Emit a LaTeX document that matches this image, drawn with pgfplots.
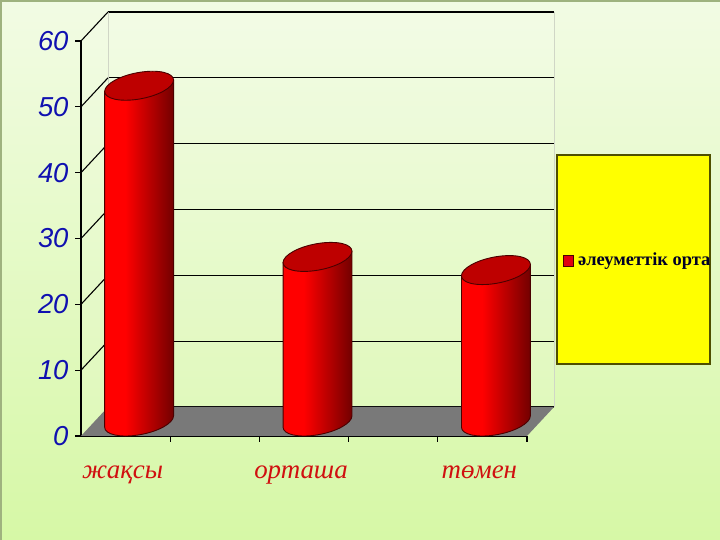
\documentclass[border=0pt]{standalone}
\usepackage{fontspec}
\setmainfont{Liberation Serif}
\newfontfamily\arialfont{Liberation Sans}
\usepackage{pgfplots}
\pgfplotsset{compat=1.18}
\definecolor{bgtop}{HTML}{F2FBE4}
\definecolor{bgbot}{HTML}{D6F8A6}
\definecolor{edgecol}{HTML}{9FB27F}
\definecolor{tickblue}{HTML}{1010B0}
\definecolor{catred}{HTML}{D01010}
\definecolor{cylline}{HTML}{4A0000}
\definecolor{capred}{HTML}{BE0000}
\definecolor{legyellow}{HTML}{FFFF00}
\definecolor{legedge}{HTML}{4F4F00}
\definecolor{legred}{HTML}{E00010}
\pgfdeclarehorizontalshading{cyl}{100bp}{rgb(0bp)=(1,0,0); rgb(25bp)=(1,0,0); rgb(40bp)=(1,0,0); rgb(75bp)=(.45,0,0); rgb(100bp)=(.45,0,0)}
% one cylinder per data point; its height is the point's y value on the axis scale
\pgfdeclareplotmark{cyl}{%
  \pgfmathsetmacro\cylH{\yval*6.6080}%
  \pgftransformshift{\pgfqpoint{13.5bp}{14.5bp}}%
  \pgfsetlinewidth{0.9pt}\pgfsetstrokecolor{cylline}%
  \begin{pgfscope}%
    \pgfpathmoveto{\pgfpoint{-34.45bp}{-5.67bp}}%
    \pgfpathlineto{\pgfpoint{-34.45bp}{-\cylH pt-5.67bp}}%
    \pgfpatharcaxes{203}{383}{\pgfqpoint{31.7bp}{0bp}}{\pgfqpoint{13.5bp}{14.5bp}}%
    \pgfpathlineto{\pgfpoint{34.45bp}{5.67bp}}%
    \pgfpathclose
    \pgfshadepath{cyl}{0}%
  \end{pgfscope}%
  \pgfpathmoveto{\pgfpoint{-34.45bp}{-5.67bp}}%
  \pgfpathlineto{\pgfpoint{-34.45bp}{-\cylH pt-5.67bp}}%
  \pgfpatharcaxes{203}{383}{\pgfqpoint{31.7bp}{0bp}}{\pgfqpoint{13.5bp}{14.5bp}}%
  \pgfpathlineto{\pgfpoint{34.45bp}{5.67bp}}%
  \pgfusepath{stroke}%
  \pgfsetfillcolor{capred}%
  \pgfpathellipse{\pgfpointorigin}{\pgfqpoint{31.7bp}{0bp}}{\pgfqpoint{13.5bp}{14.5bp}}%
  \pgfusepath{fill,stroke}%
}
\begin{document}
\begin{tikzpicture}[x=1bp,y=1bp]
\path[use as bounding box] (0,0) rectangle (720,540);
\shade[top color=bgtop,bottom color=bgbot] (0,0) rectangle (720,540);
\fill[edgecol] (0,0) rectangle (2,540);
\fill[edgecol] (0,537.5) rectangle (720,540);
% left wall
\fill[white,opacity=.1] (81,104) -- (108,133) -- (108,528) -- (81,499) -- cycle;
% back wall with gridlines
\begin{axis}[at={(108bp,133bp)},anchor=south west,scale only axis,width=446bp,height=395bp,
  xmin=0,xmax=5,ymin=0,ymax=60,ytick={0,10,...,60},xtick=\empty,yticklabels={},
  major tick length=0pt,ymajorgrids,grid style={black,line width=1.1pt},
  axis line style={draw=none},
  axis background/.style={fill=white,fill opacity=.1}]
\addplot[draw=none] coordinates {(0,0)(5,60)};
\end{axis}
\draw[gray!30!bgtop,line width=.8pt] (108,133) -- (108,528) (554,133) -- (554,528);
% main axis
\begin{axis}[at={(81bp,104bp)},anchor=south west,scale only axis,width=446bp,height=395bp,
  xmin=0,xmax=5,ymin=0,ymax=60,clip=false,
  axis x line*=bottom,axis y line*=left,
  axis line style={black,line width=1.1pt,-},
  tick style={black,line width=1.1pt},
  tick align=outside,major tick length=6bp,
  xtick={1,2,3,4,5},xticklabels={},
  ytick={0,10,...,60},
  yticklabel style={font=\arialfont\itshape\fontsize{27.5}{30}\selectfont,text=tickblue,xshift=-3bp},
  /pgf/number format/assume math mode=true,
  extra x ticks={0.5,2.5,4.5},
  extra x tick labels={жақсы,орташа,төмен},
  extra x tick style={major tick length=0pt,
    xticklabel style={font=\itshape\fontsize{27}{30}\selectfont,text=catred,yshift=-26bp,xshift=-3bp}}]
\fill[gray!95!black] (axis cs:0,0) -- (axis cs:5,0) -- ++(27bp,29bp) -- ([shift={(27bp,29bp)}]axis cs:0,0) -- cycle;
\foreach \v in {10,20,30,40,50,60}{
  \edef\temp{\noexpand\draw[black,line width=1.1pt] (axis cs:0,\v) -- ++(27bp,29bp);}\temp
}
\addplot[only marks,mark=cyl,visualization depends on={rawy \as \yval}] coordinates {(0.5,51)(2.5,25)(4.5,23)};
\end{axis}
% legend
\filldraw[fill=legyellow,draw=legedge,line width=1.3pt] (557,176) rectangle (710,385);
\filldraw[fill=legred,draw=cylline,line width=.8pt] (563,274) rectangle (573,285);
\node[anchor=west,inner sep=0pt,font=\bfseries\fontsize{18.5}{20}\selectfont,text=black!85!blue] at (578,279) {әлеуметтік орта};
\end{tikzpicture}
\end{document}
